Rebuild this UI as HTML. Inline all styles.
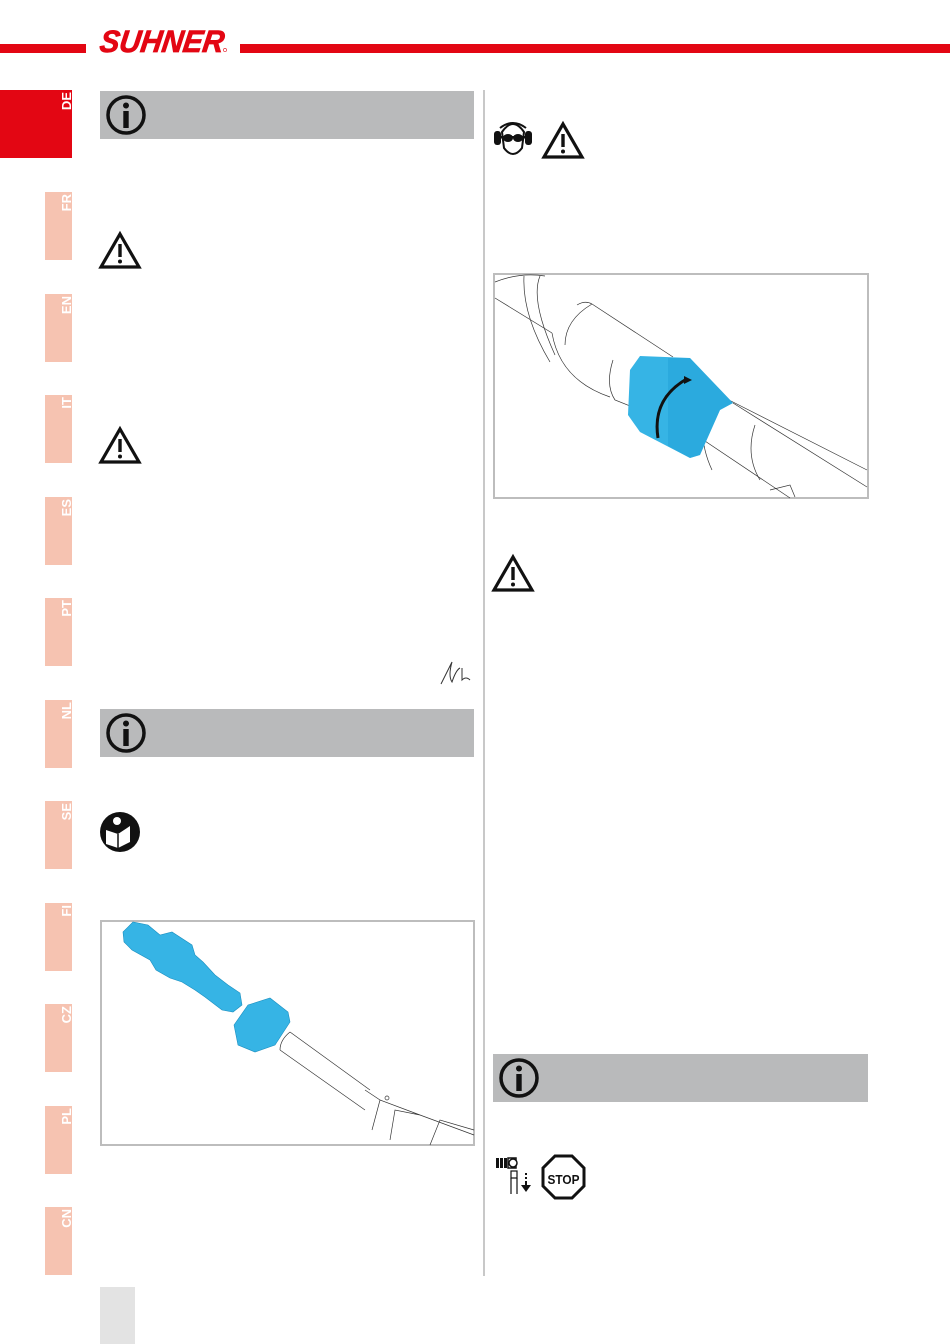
<!DOCTYPE html>
<html><head><meta charset="utf-8"><style>
html,body{margin:0;padding:0;background:#fff;}
body{width:950px;height:1344px;position:relative;overflow:hidden;font-family:"Liberation Sans",sans-serif;}
</style></head><body>
<svg width="950" height="1344" viewBox="0 0 950 1344" xmlns="http://www.w3.org/2000/svg" style="position:absolute;left:0;top:0">
<defs>
<g id="warn"><path d="M20 2 L39 35 L1 35 Z" fill="none" stroke="#111" stroke-width="3.2" stroke-linejoin="miter"/><rect x="18.3" y="12" width="3.4" height="13" fill="#111"/><circle cx="20" cy="29.5" r="2" fill="#111"/></g>
<g id="info"><circle cx="20" cy="20" r="18" fill="none" stroke="#111" stroke-width="3.5"/><circle cx="20" cy="10.5" r="3" fill="#111"/><rect x="17.3" y="16" width="5.4" height="17" fill="#111"/></g>
</defs>
<!-- header -->
<rect x="0" y="44" width="86" height="9" fill="#e30613"/>
<rect x="240" y="44" width="710" height="9" fill="#e30613"/>
<text x="99" y="52" font-family="Liberation Sans" font-weight="bold" font-style="italic" font-size="31" fill="#e30613" stroke="#e30613" stroke-width="0.8" textLength="124" lengthAdjust="spacingAndGlyphs" transform="skewX(-8) translate(7,0)">SUHNER</text>
<circle cx="225" cy="50" r="1.6" fill="none" stroke="#e30613" stroke-width="0.6"/>
<!-- tabs -->
<rect x="0" y="90" width="72" height="68" fill="#e30613"/>
<text transform="translate(71,92) rotate(-90)" text-anchor="end" font-weight="bold" font-size="13" fill="#fff">DE</text>
<g fill="#f6c3b1">
<rect x="45" y="192" width="27" height="68"/><rect x="45" y="294" width="27" height="68"/><rect x="45" y="395" width="27" height="68"/><rect x="45" y="497" width="27" height="68"/><rect x="45" y="598" width="27" height="68"/><rect x="45" y="700" width="27" height="68"/><rect x="45" y="801" width="27" height="68"/><rect x="45" y="903" width="27" height="68"/><rect x="45" y="1004" width="27" height="68"/><rect x="45" y="1106" width="27" height="68"/><rect x="45" y="1207" width="27" height="68"/>
</g>
<g font-weight="bold" font-size="13" fill="#fff" text-anchor="end">
<text transform="translate(71,194) rotate(-90)">FR</text>
<text transform="translate(71,296) rotate(-90)">EN</text>
<text transform="translate(71,397) rotate(-90)">IT</text>
<text transform="translate(71,499) rotate(-90)">ES</text>
<text transform="translate(71,600) rotate(-90)">PT</text>
<text transform="translate(71,702) rotate(-90)">NL</text>
<text transform="translate(71,803) rotate(-90)">SE</text>
<text transform="translate(71,905) rotate(-90)">FI</text>
<text transform="translate(71,1006) rotate(-90)">CZ</text>
<text transform="translate(71,1108) rotate(-90)">PL</text>
<text transform="translate(71,1209) rotate(-90)">CN</text>
</g>
<!-- divider -->
<rect x="483" y="90" width="2" height="1186" fill="#c8c8c8"/>
<!-- bottom gray -->
<rect x="100" y="1287" width="35" height="57" fill="#e3e3e3"/>
<!-- grey bars -->
<rect x="100" y="91" width="374" height="48" fill="#b9babb"/>
<use href="#info" x="106" y="95"/>
<rect x="100" y="709" width="374" height="48" fill="#b9babb"/>
<use href="#info" x="106" y="713"/>
<rect x="493" y="1054" width="375" height="48" fill="#b9babb"/>
<use href="#info" x="499" y="1058"/>
<!-- warnings -->
<use href="#warn" x="100" y="232"/>
<use href="#warn" x="100" y="427"/>
<use href="#warn" x="543" y="122"/>
<use href="#warn" x="493" y="555"/>
<!-- goggles/earmuff icon -->
<g>
<path d="M502 132 Q513 116 524 132 L522 148 Q513 160 504 148 Z" fill="#fff" stroke="#111" stroke-width="2"/>
<path d="M500 128 Q513 118 526 128" fill="none" stroke="#111" stroke-width="2"/>
<rect x="494" y="131" width="7" height="14" rx="3" fill="#111"/>
<rect x="525" y="131" width="7" height="14" rx="3" fill="#111"/>
<ellipse cx="508" cy="138" rx="5" ry="4" fill="#111"/><ellipse cx="518" cy="138" rx="5" ry="4" fill="#111"/>
<rect x="500" y="136" width="26" height="2.5" fill="#111"/>
</g>
<!-- book icon -->
<circle cx="120" cy="832" r="20" fill="#111"/>
<circle cx="117" cy="821" r="4" fill="#fff"/>
<path d="M106 830 L118 834 L130 826 L130 842 L118 848 L106 844 Z" fill="#fff"/>
<path d="M118 834 L118 848" stroke="#111" stroke-width="1.5"/>
<!-- signature -->
<path d="M441 684 Q447 672 452 662 Q448 676 452 682 Q456 670 460 668 M462 668 L462 680 Q466 676 470 680" fill="none" stroke="#333" stroke-width="1"/>
<!-- right image -->
<rect x="494" y="274" width="374" height="224" fill="#fff" stroke="#bdbdbd" stroke-width="2"/>
<g fill="none" stroke="#333" stroke-width="0.7">
<path d="M495 298 L552 333 M495 282 Q520 272 545 276 M540 276 Q530 300 555 355 M524 276 Q522 315 550 362"/>
<path d="M577 305 Q585 300 592 304 L673 357 M552 333 Q560 380 610 397 M592 304 Q565 320 565 345"/>
<path d="M613 360 Q605 385 615 400 L640 410 M733 403 L867 487 M693 433 L790 498 M725 398 L867 470"/>
<path d="M705 410 Q698 440 712 470 M755 425 Q745 455 760 480 M770 490 L790 485 L795 497"/>
</g>
<path d="M640 356 L690 358 L733 403 L720 410 L700 455 L690 458 L640 432 L628 415 L630 370 Z" fill="#36b4e5"/>
<path d="M668 358 L690 358 L733 403 L720 410 L700 455 L690 458 L668 446 Z" fill="#1e9dd4" opacity="0.45"/>
<path d="M658 438 Q652 400 685 380" fill="none" stroke="#111" stroke-width="3"/>
<path d="M684 376 L692 380 L684 384 Z" fill="#111"/>
<!-- left image -->
<rect x="101" y="921" width="373" height="224" fill="#fff" stroke="#bdbdbd" stroke-width="2"/>
<g fill="#36b4e5" stroke="#1a8fc0" stroke-width="0.6">
<path d="M123 932 L133 922 L148 925 L160 935 L172 932 L192 945 L195 955 L203 962 L215 975 L228 985 L240 993 L242 1005 L233 1012 L222 1010 L205 997 L195 990 L182 982 L170 978 L156 970 L150 960 L132 950 L124 942 Z"/>
<path d="M234 1025 L248 1005 L270 998 L288 1012 L290 1022 L275 1045 L255 1052 L238 1045 Z"/>
</g>
<g fill="none" stroke="#333" stroke-width="0.7">
<path d="M290 1032 L370 1090 M280 1050 L365 1110 M290 1032 Q280 1040 280 1050 M365 1090 L380 1100 L372 1130 M380 1100 L420 1115 L474 1135 M390 1140 L395 1110 L420 1115 M430 1145 L440 1120 L474 1130"/>
<circle cx="387" cy="1098" r="2"/>
</g>
<!-- bottom right icons -->
<g fill="#111">
<rect x="496" y="1158" width="3" height="10"/><rect x="500" y="1158" width="3" height="10"/><rect x="504" y="1158" width="3" height="10"/>
<rect x="508" y="1158" width="8" height="10" fill="none" stroke="#111" stroke-width="1.5"/>
<circle cx="513" cy="1163" r="4" fill="#fff" stroke="#111" stroke-width="1.5"/>
<rect x="511" y="1171" width="6" height="7" fill="none" stroke="#111" stroke-width="1.2"/>
<path d="M511 1178 L511 1194 M517 1178 L517 1194" stroke="#111" stroke-width="1.2"/>
<rect x="525" y="1173" width="2" height="2"/><rect x="525" y="1177" width="2" height="2"/><rect x="525" y="1181" width="2" height="4"/>
<path d="M521 1185 L531 1185 L526 1192 Z"/>
</g>
<path d="M555 1156 L572 1156 L584 1168 L584 1186 L572 1198 L555 1198 L543 1186 L543 1168 Z" fill="#fff" stroke="#111" stroke-width="3"/>
<text x="563.5" y="1184" text-anchor="middle" font-weight="bold" font-size="13" fill="#111" textLength="32" lengthAdjust="spacingAndGlyphs">STOP</text>
</svg>
</body></html>
